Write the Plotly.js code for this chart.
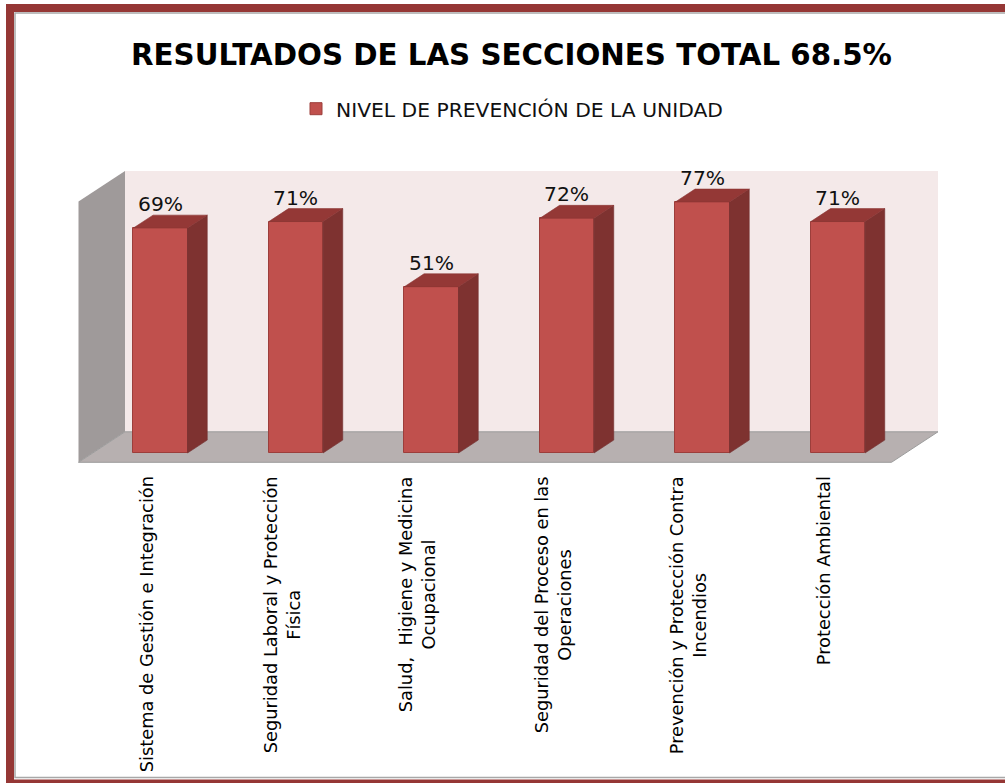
<!DOCTYPE html>
<html><head><meta charset="utf-8">
<script src="https://cdn.plot.ly/plotly-3.0.1.min.js"></script>
<style>html,body{margin:0;padding:0;background:#fff;} #chart{width:1005px;height:783px;}</style>
</head><body><div id="chart"></div>
<script>
// ---- data ----
const categories = ["Sistema de Gestión e Integración","Seguridad Laboral y Protección Física","Salud, Higiene y Medicina Ocupacional","Seguridad del Proceso en las Operaciones","Prevención y Protección Contra Incendios","Protección Ambiental"];
const tickLabels = ["Sistema de Gestión e Integración","Seguridad Laboral y Protección<br>Física","Salud,  Higiene y Medicina<br>Ocupacional","Seguridad del Proceso en las<br>Operaciones","Prevención y Protección Contra<br>Incendios","Protección Ambiental"];
const values = [69, 71, 51, 72, 77, 71];
const seriesName = "NIVEL DE PREVENCIÓN DE LA UNIDAD";
const chartTitle = "RESULTADOS DE LAS SECCIONES TOTAL 68.5%";
const axisMax = 80;

// ---- geometry / style ----
const W = 1005, H = 783;
const M = {l: 70, r: 55, t: 160, b: 313};
const PW = W - M.l - M.r, PH = H - M.t - M.b;
const slotPx = 135.5, pctPx = 3.26;
const x0px = 146.25, y0px = 462.3;
const DX = 46.5 / slotPx, DY = 30.5 / pctPx;
const d0 = 0.305, d1 = 0.729, bw = 0.4;
const xr = [-(x0px - M.l) / slotPx, (W - M.r - x0px) / slotPx];
const yr = [-(H - M.b - y0px) / pctPx, (y0px - M.t) / pctPx];
const n = categories.length;
function P(c, v, d) { return [c + d * DX, v + d * DY]; }
function path(pts) { return 'M' + pts.map(p => p[0].toFixed(4) + ',' + p[1].toFixed(4)).join('L') + 'Z'; }
function px2x(px) { return (px - M.l) / PW; }
function py2y(py) { return (H - M.b - py) / PH; }
const FONT = "DejaVu Sans";

const shapes = [];
// back wall
shapes.push({type: 'path', xref: 'x', yref: 'y', layer: 'below',
  path: path([P(-0.5, 0, 1), P(n - 0.5, 0, 1), P(n - 0.5, axisMax, 1), P(-0.5, axisMax, 1)]),
  fillcolor: '#F4E9E9', line: {width: 0}});
// left wall
shapes.push({type: 'path', xref: 'x', yref: 'y', layer: 'below',
  path: path([P(-0.5, 0, 0), P(-0.5, 0, 1), P(-0.5, axisMax, 1), P(-0.5, axisMax, 0)]),
  fillcolor: '#9F9A9A', line: {width: 0}});
// floor
shapes.push({type: 'path', xref: 'x', yref: 'y', layer: 'below',
  path: path([P(-0.5, 0, 0), P(n - 0.5, 0, 0), P(n - 0.5, 0, 1), P(-0.5, 0, 1)]),
  fillcolor: '#B7B0B0', line: {width: 1, color: '#9C9C9C'}});

// bar side and top faces
values.forEach((v, i) => {
  shapes.push({type: 'path', xref: 'x', yref: 'y', layer: 'above',
    path: path([P(i + bw / 2, 0, d0), P(i + bw / 2, 0, d1), P(i + bw / 2, v, d1), P(i + bw / 2, v, d0)]),
    fillcolor: '#7E3230', line: {width: 0.6, color: '#743030'}});
  shapes.push({type: 'path', xref: 'x', yref: 'y', layer: 'above',
    path: path([P(i - bw / 2, v, d0), P(i + bw / 2, v, d0), P(i + bw / 2, v, d1), P(i - bw / 2, v, d1)]),
    fillcolor: '#943836', line: {width: 0.6, color: '#8A3432'}});
});

// frame
shapes.push({type: 'rect', xref: 'paper', yref: 'paper', layer: 'above',
  x0: px2x(15), x1: px2x(1020), y0: py2y(777.5), y1: py2y(13), fillcolor: 'rgba(0,0,0,0)',
  line: {width: 1.5, color: '#A8A8A8'}});
shapes.push({type: 'rect', xref: 'paper', yref: 'paper', layer: 'above',
  x0: px2x(10), x1: px2x(1020), y0: py2y(783.5), y1: py2y(8), fillcolor: 'rgba(0,0,0,0)',
  line: {width: 8, color: '#953735'}});

const annotations = [];
values.forEach((v, i) => {
  const p = P(i, v, d1);
  annotations.push({xref: 'x', yref: 'y', x: i + d0 * DX, y: p[1], text: v + '%',
    showarrow: false, xanchor: 'center', yanchor: 'bottom', yshift: -3,
    font: {family: FONT, size: 20.3, color: '#111'}});
});
tickLabels.forEach((t, i) => {
  annotations.push({xref: 'x', yref: 'paper', x: i, y: py2y(474), text: t, textangle: -90,
    showarrow: false, xanchor: 'center', yanchor: 'top', align: 'center',
    font: {family: FONT, size: 17.8, color: '#000'}});
});

const trace = {
  type: 'bar', x: categories, y: values, base: d0 * DY, width: bw, offset: -bw / 2 + d0 * DX,
  name: seriesName, marker: {color: '#C0504D', line: {color: '#9C3E3B', width: 1}},
  hovertemplate: '%{x}: %{y}%<extra></extra>'
};

const layout = {
  width: W, height: H, margin: M, paper_bgcolor: '#fff', plot_bgcolor: 'rgba(0,0,0,0)',
  title: {text: chartTitle, x: 511.5 / W, xanchor: 'center', y: 1 - 55 / H, yanchor: 'middle',
    font: {family: FONT, size: 29.3, weight: 'bold', color: '#000'}},
  showlegend: true,
  legend: {orientation: 'h', xref: 'container', yref: 'container', x: 296 / W, xanchor: 'left',
    y: 1 - 109 / H, yanchor: 'middle', font: {family: FONT, size: 20.3, color: '#111'}, bgcolor: 'rgba(0,0,0,0)'},
  xaxis: {type: 'category', range: xr, showgrid: false, zeroline: false, showline: false, showticklabels: false, ticks: '', fixedrange: true},
  yaxis: {range: yr, showgrid: false, zeroline: false, showline: false, showticklabels: false, ticks: '', fixedrange: true},
  shapes: shapes, annotations: annotations, bargap: 0
};
Plotly.newPlot('chart', [trace], layout, {displayModeBar: false, responsive: false});
</script></body></html>
